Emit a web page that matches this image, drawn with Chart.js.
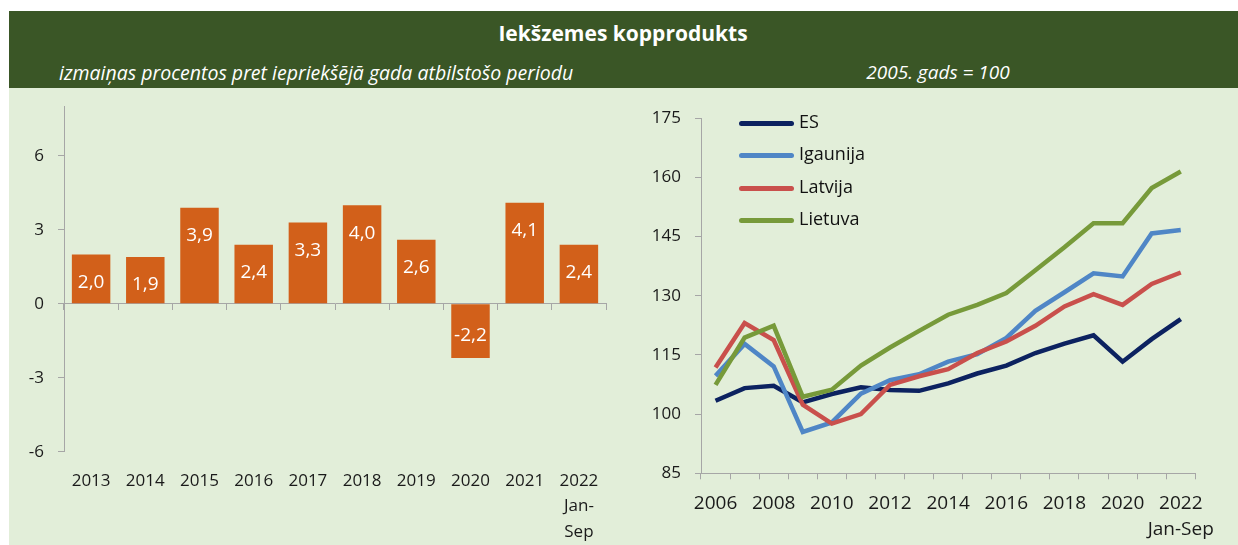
<!DOCTYPE html>
<html>
<head>
<meta charset="utf-8">
<script src="https://cdn.jsdelivr.net/npm/chart.js@4.4.0/dist/chart.umd.min.js"></script>
<style>
  body { margin: 0; background: #fff; font-family: 'Open Sans', sans-serif; }
  #band { position: absolute; left: 9px; top: 11px; width: 1229px; height: 77px; background: #3a5626; }
  #panel { position: absolute; left: 9px; top: 88px; width: 1229px; height: 457px; background: #e2eed9; }
  .t { position: absolute; color: #fff; white-space: nowrap; }
  #title { left: 623px; top: 33px; transform: translate(-50%, -50%); font-weight: bold; font-size: 21px; }
  #sub1 { left: 59px; top: 72px; transform: translateY(-50%); font-style: italic; font-size: 19.5px; }
  #sub2 { left: 938px; top: 72px; transform: translate(-50%, -50%); font-style: italic; font-size: 19px; }
  canvas { position: absolute; }
  #left { left: 0; top: 78px; }
  #right { left: 620px; top: 88px; }
  .lg { position: absolute; left: 739px; font-size: 18px; color: #111; transform: translateY(-50%); white-space: nowrap; }
  .lg span { display: inline-block; width: 55px; height: 5px; border-radius: 2.5px; vertical-align: middle; margin-right: 5px; }
</style>
</head>
<body>
<div id="band"></div>
<div id="panel"></div>
<div class="t" id="title">Iekšzemes kopprodukts</div>
<div class="t" id="sub1">izmaiņas procentos pret iepriekšējā gada atbilstošo periodu</div>
<div class="t" id="sub2">2005. gads = 100</div>
<canvas id="left" width="620" height="467"></canvas>
<canvas id="right" width="618" height="457"></canvas>
<div id="legend"></div>
<script>
// kreisais grafiks: pieaugums %
var barYears = ['2013', '2014', '2015', '2016', '2017', '2018', '2019', '2020', '2021', ['2022', 'Jan-', 'Sep']];
var gdpGrowth = [2.0, 1.9, 3.9, 2.4, 3.3, 4.0, 2.6, -2.2, 4.1, 2.4];
var barTicks = [-6, -3, 0, 3, 6];

// labais grafiks: 2005 = 100
var lineYears = ['2006', '2007', '2008', '2009', '2010', '2011', '2012', '2013', '2014', '2015',
  '2016', '2017', '2018', '2019', '2020', '2021', ['2022', 'Jan-Sep']];
var seriesNames = ['ES', 'Igaunija', 'Latvija', 'Lietuva'];
var es = [103.4, 106.6, 107.2, 103.0, 105.1, 106.8, 106.1, 105.9, 107.8, 110.3, 112.3, 115.5, 117.9, 120.0, 113.3, 119.0, 124.1];
var igaunija = [109.7, 117.8, 112.1, 95.5, 97.9, 105.2, 108.6, 110.1, 113.3, 115.2, 119.3, 126.2, 130.9, 135.7, 134.9, 145.8, 146.7];
var latvija = [111.8, 123.1, 118.8, 102.4, 97.6, 100.0, 107.4, 109.6, 111.4, 115.5, 118.4, 122.4, 127.3, 130.4, 127.7, 133.0, 135.9];
var lietuva = [107.4, 119.4, 122.4, 104.4, 106.2, 112.3, 116.9, 121.1, 125.2, 127.7, 130.7, 136.5, 142.3, 148.4, 148.4, 157.3, 161.5];
var seriesColors = ['#0c2260', '#4f86c6', '#c9504c', '#779a3a'];

var axisGray = '#a6a6a6';
var tickFont = { family: 'Open Sans', size: 17, lineHeight: 1.5 };
var lineXFont = { family: 'Open Sans', size: 19, lineHeight: 1.37 };
Chart.defaults.color = '#1a1a1a';

var barLabels = {
  id: 'barLabels',
  afterDatasetsDraw: function(chart) {
    var ctx = chart.ctx;
    var meta = chart.getDatasetMeta(0);
    ctx.save();
    ctx.font = '19px "Open Sans"';
    ctx.fillStyle = '#fff';
    ctx.textAlign = 'center';
    ctx.textBaseline = 'middle';
    meta.data.forEach(function(bar, i) {
      var v = gdpGrowth[i];
      var y = v >= 0 ? bar.y + 28 : bar.y - 22.5;
      ctx.fillText(v.toFixed(1).replace('.', ','), bar.x, y);
    });
    ctx.restore();
  }
};

new Chart(document.getElementById('left'), {
  type: 'bar',
  data: {
    labels: barYears,
    datasets: [{
      data: gdpGrowth,
      backgroundColor: '#d2601a',
      categoryPercentage: 1,
      barPercentage: 0.71
    }]
  },
  options: {
    responsive: false,
    animation: false,
    layout: { padding: { left: 0, top: 28.7, right: 14, bottom: 0 } },
    plugins: { legend: { display: false }, tooltip: { enabled: false } },
    scales: {
      x: {
        position: 'bottom',
        grid: { display: false },
        border: { display: false },
        ticks: { font: tickFont, padding: 8.5, maxRotation: 0, autoSkip: false },
        afterFit: function(s) { s.height = 93.3; }
      },
      x0: {
        type: 'category',
        labels: barYears,
        position: { y: 0 },
        offset: true,
        grid: { offset: true, drawOnChartArea: false, tickLength: 6, color: axisGray },
        border: { color: axisGray },
        ticks: { display: false },
        afterFit: function(s) { s.height = 0; }
      },
      y: {
        min: -6,
        max: 8,
        afterBuildTicks: function(s) { s.ticks = barTicks.map(function(v) { return { value: v }; }); },
        grid: { drawOnChartArea: false, tickLength: 6, color: axisGray },
        border: { color: axisGray },
        ticks: { font: tickFont, padding: 14 },
        afterFit: function(s) { s.width = 64; }
      }
    }
  },
  plugins: [barLabels]
});

var lineData = [es, igaunija, latvija, lietuva];
new Chart(document.getElementById('right'), {
  type: 'line',
  data: {
    labels: lineYears,
    datasets: lineData.map(function(d, i) {
      return {
        label: seriesNames[i],
        data: d,
        borderColor: seriesColors[i],
        borderWidth: 4.5,
        pointRadius: 0,
        tension: 0,
        order: 4 - i
      };
    })
  },
  options: {
    responsive: false,
    animation: false,
    layout: { padding: { left: 0, top: 30.3, right: 42.7, bottom: 0 } },
    plugins: { legend: { display: false }, tooltip: { enabled: false } },
    scales: {
      x: {
        offset: true,
        grid: { offset: true, drawOnChartArea: false, tickLength: 6, color: axisGray },
        border: { color: axisGray },
        ticks: {
          font: lineXFont, padding: 11, maxRotation: 0, autoSkip: false,
          callback: function(v, i) { return i % 2 === 0 ? this.getLabelForValue(v) : ''; }
        },
        afterFit: function(s) { s.height = 71.7; }
      },
      y: {
        min: 85,
        max: 175,
        ticks: { stepSize: 15, font: tickFont, padding: 14 },
        grid: { drawOnChartArea: false, tickLength: 6, color: axisGray },
        border: { color: axisGray },
        afterFit: function(s) { s.width = 81; }
      }
    }
  }
});

// leģenda
var legendRows = [121, 153, 186, 218];
var lg = document.getElementById('legend');
seriesNames.forEach(function(name, i) {
  var row = document.createElement('div');
  row.className = 'lg';
  row.style.top = legendRows[i] + 'px';
  var sw = document.createElement('span');
  sw.style.background = seriesColors[i];
  row.appendChild(sw);
  row.appendChild(document.createTextNode(name));
  lg.appendChild(row);
});
</script>
</body>
</html>
